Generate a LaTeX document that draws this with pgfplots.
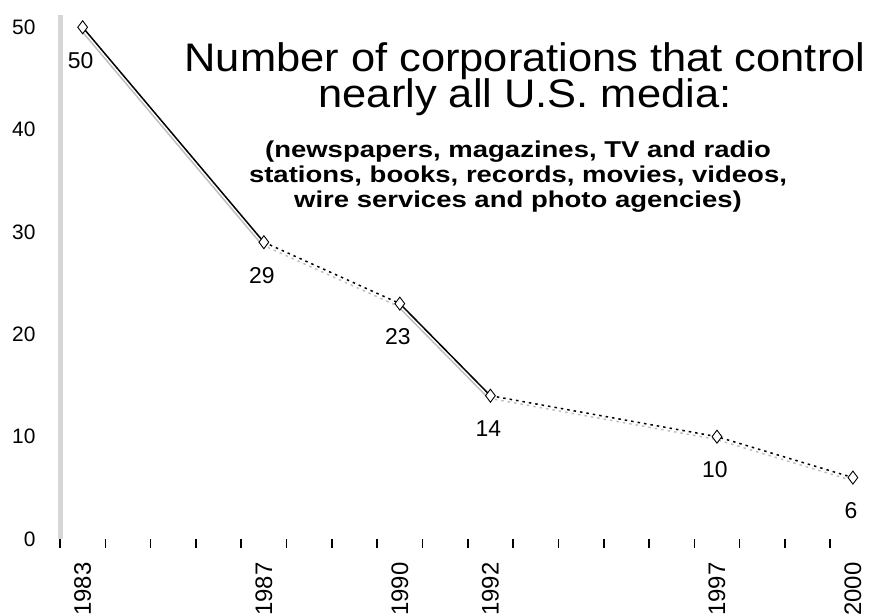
\documentclass[border=0pt]{standalone}
\usepackage{fontspec}
\setmainfont{Liberation Sans}
\newfontfamily\titlefont[FakeStretch=1.09]{Liberation Sans}
\newfontfamily\subfont[FakeStretch=1.2]{Liberation Sans Bold}
\usepackage{pgfplots}
\pgfplotsset{compat=1.18}

\begin{document}
\begin{tikzpicture}[x=1bp,y=1bp]

\begin{axis}[
    at={(60bp,77bp)}, anchor=south west,
    scale only axis,
    width=811bp, height=524bp,
    xmin=1982.5, xmax=2000.4,
    ymin=0, ymax=51.2,
    axis x line*=bottom, axis y line*=left,
    axis line style={-},
    x axis line style={draw=none},
    y axis line style={draw=black!16, line width=5bp},
    xtick={1982.5,1983.5,...,1999.5},
    xticklabels={},
    x tick style={black, line width=1.6bp},
    tick align=outside,
    major tick length=9bp,
    ytick={0,10,20,30,40,50},
    y tick style={draw=none},
    y tick label style={font=\fontsize{21}{21}\selectfont, xshift=-12bp},
    /pgf/number format/assume math mode=true,
    extra x ticks={1983,1987,1990,1992,1997,2000},
    extra x tick labels={1983,1987,1990,1992,1997,2000},
    extra x tick style={
        major tick length=0pt,
        xticklabel style={yshift=-20bp, rotate=90, anchor=east,
            font=\fontsize{24}{24}\selectfont}},
    clip=false,
]

% shadow of the line
\addplot[black!25, line width=1.5bp, transform canvas={shift={(-2bp,-2.5bp)}}]
  coordinates {(1983,50) (1987,29)};
\addplot[black!25, line width=1.5bp, dash pattern=on 2.5bp off 4bp, transform canvas={shift={(-2bp,-2.5bp)}}]
  coordinates {(1987,29) (1990,23)};
\addplot[black!25, line width=1.5bp, transform canvas={shift={(-2bp,-2.5bp)}}]
  coordinates {(1990,23) (1992,14)};
\addplot[black!25, line width=1.5bp, dash pattern=on 2.5bp off 4bp, transform canvas={shift={(-2bp,-2.5bp)}}]
  coordinates {(1992,14) (1997,10) (2000,6)};

% the line itself
\addplot[black, line width=1.5bp]
  coordinates {(1983,50) (1987,29)};
\addplot[black, line width=1.5bp, dash pattern=on 2.5bp off 4bp]
  coordinates {(1987,29) (1990,23)};
\addplot[black, line width=1.5bp]
  coordinates {(1990,23) (1992,14)};
\addplot[black, line width=1.5bp, dash pattern=on 2.5bp off 4bp]
  coordinates {(1992,14) (1997,10) (2000,6)};

% markers and value labels
\addplot[only marks, mark=diamond*, mark size=6.5bp,
    mark options={fill=white, draw=black, line width=0.9bp},
    nodes near coords,
    every node near coord/.append style={anchor=center, yshift=-33bp, xshift=-2bp,
        font=\fontsize{23}{23}\selectfont, black}]
  coordinates {(1983,50) (1987,29) (1990,23) (1992,14) (1997,10) (2000,6)};
\end{axis}

\node[anchor=base, font=\titlefont\fontsize{40}{40}\selectfont] at (525,544) {Number of corporations that control};
\node[anchor=base, font=\titlefont\fontsize{40}{40}\selectfont] at (525,508) {nearly all U.S. media:};
\node[anchor=base, font=\subfont\fontsize{23}{23}\selectfont] at (518,458) {(newspapers, magazines, TV and radio};
\node[anchor=base, font=\subfont\fontsize{23}{23}\selectfont] at (518,433) {stations, books, records, movies, videos,};
\node[anchor=base, font=\subfont\fontsize{23}{23}\selectfont] at (518,408) {wire services and photo agencies)};

\pgfresetboundingbox
\path (0,0) rectangle (871,616);
\end{tikzpicture}
\end{document}
